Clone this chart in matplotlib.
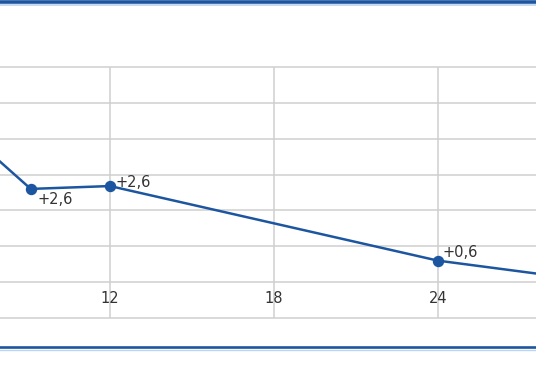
import matplotlib.pyplot as plt
from matplotlib.lines import Line2D

# months after start and change values
months = [6, 9.1, 12, 24, 30]
values = [4.7, 2.6, 2.68, 0.6, 0.0]
labels = {9.1: '+2,6', 12: '+2,6', 24: '+0,6'}
label_offsets = {9.1: (7, -11), 12: (6, 4), 24: (5, 8)}
xticks = [12, 18, 24]
ygrid = [-1, 0, 1, 2, 3, 4, 5, 6]

blue = '#1d56a0'
grid = '#cfcfcf'

fig = plt.figure(figsize=(5.36, 3.86), dpi=100)
ax = fig.add_axes([0, 68 / 386, 1, 251 / 386])
ax.set_xlim(7.975, 27.59)
ax.set_ylim(-1, 6)
ax.axis('off')

for y in ygrid:
    ax.axhline(y, color=grid, lw=1.1, zorder=1, clip_on=False)
for x in xticks:
    ax.axvline(x, color=grid, lw=1.1, zorder=1)
    ax.text(x, -0.47, str(x), ha='center', va='center', fontsize=10.5,
            color='#333333', zorder=3)

ax.plot(months, values, color=blue, lw=1.8, marker='o', markersize=7.2,
        zorder=4)

for m, txt in labels.items():
    v = values[months.index(m)]
    dx, dy = label_offsets[m]
    ax.annotate(txt, (m, v), xytext=(dx, dy), textcoords='offset pixels',
                ha='left', va='center', fontsize=10.5, color='#333333', zorder=5)

# frame lines at top and bottom
fig.add_artist(Line2D([0, 1], [1 - 1.5 / 386] * 2, color=blue, lw=2.6,
                      transform=fig.transFigure))
fig.add_artist(Line2D([0, 1], [1 - 4.5 / 386] * 2, color='#bcd4ec', lw=1.2,
                      transform=fig.transFigure))
fig.add_artist(Line2D([0, 1], [1 - 347 / 386] * 2, color=blue, lw=1.9,
                      transform=fig.transFigure))
fig.add_artist(Line2D([0, 1], [1 - 349.5 / 386] * 2, color='#bcd4ec', lw=1,
                      transform=fig.transFigure))

fig.savefig('out.png', dpi=100)
